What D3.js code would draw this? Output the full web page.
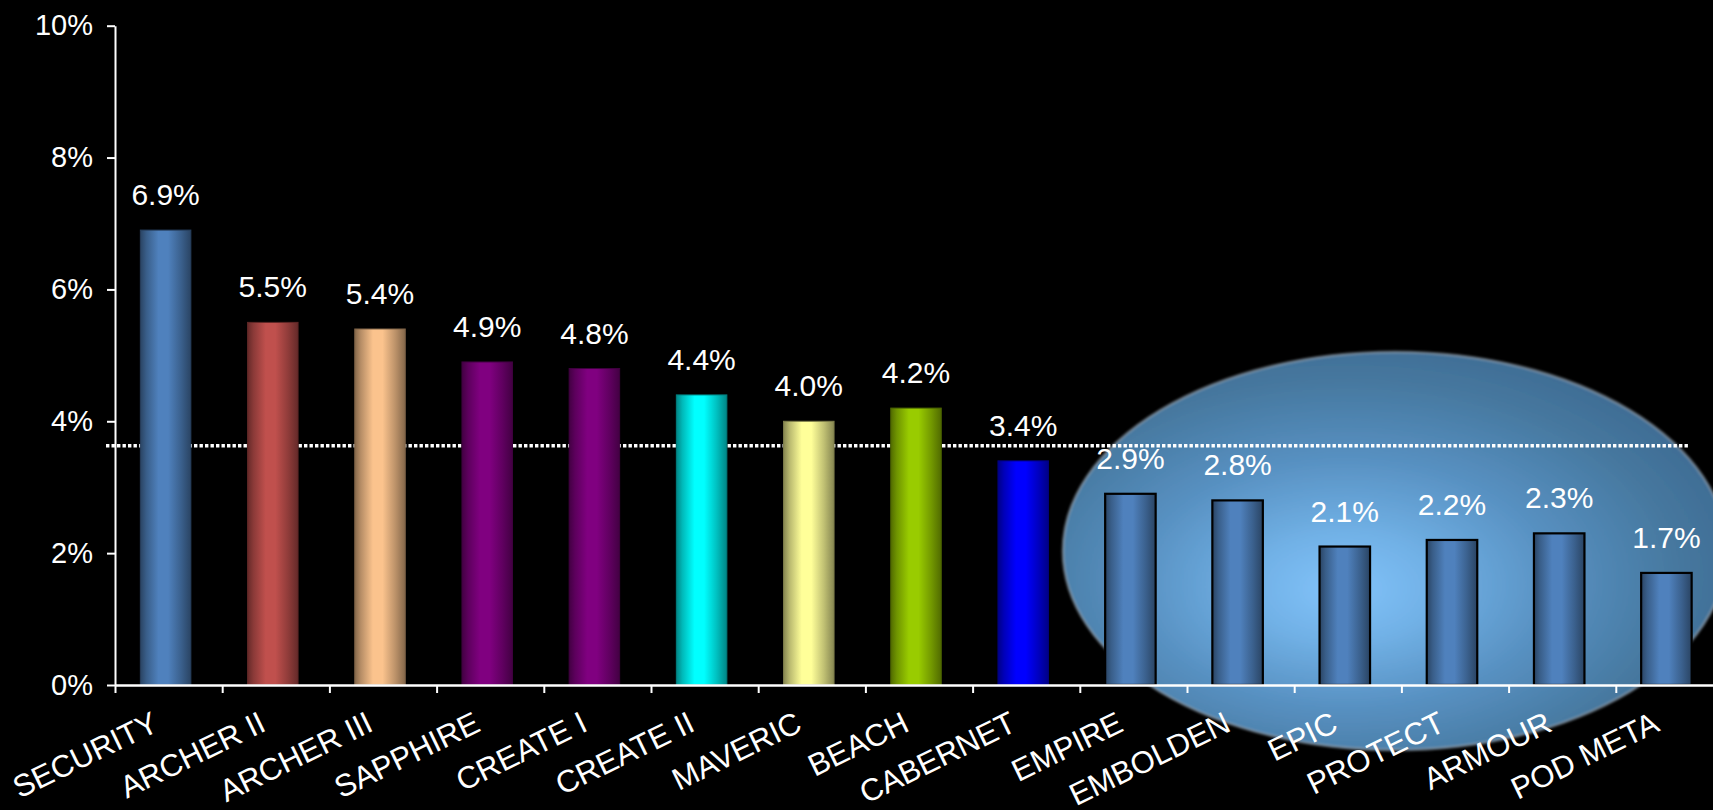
<!DOCTYPE html>
<html>
<head>
<meta charset="utf-8">
<script src="https://cdn.jsdelivr.net/npm/d3@7"></script>
<style>
  html, body { margin: 0; padding: 0; background: #000; }
  svg { display: block; }
  text { font-family: "Liberation Sans", Arial, sans-serif; fill: #fff; }
</style>
</head>
<body>
<svg id="chart" width="1713" height="810"></svg>
<script>
// Product names along the x axis
const categories = ["SECURITY", "ARCHER II", "ARCHER III", "SAPPHIRE", "CREATE I", "CREATE II",
  "MAVERIC", "BEACH", "CABERNET", "EMPIRE", "EMBOLDEN", "EPIC", "PROTECT", "ARMOUR", "POD META"];
// Rate per product, in percent
const values = [6.9, 5.5, 5.4, 4.9, 4.8, 4.4, 4.0, 4.2, 3.4, 2.9, 2.8, 2.1, 2.2, 2.3, 1.7];
// Fill colour per bar
const barColors = ["#4f81bd", "#c0504d", "#fbc38d", "#800080", "#800080", "#00ffff",
  "#ffff99", "#99cc00", "#0000ff", "#4f81bd", "#4f81bd", "#4f81bd", "#4f81bd", "#4f81bd", "#4f81bd"];
// Bars drawn with a black outline (the highlighted group)
const outlined = [false, false, false, false, false, false, false, false, false,
  true, true, true, true, true, true];
// Y axis ticks, in percent
const yTicks = [0, 2, 4, 6, 8, 10];
// Average reference line, in percent
const averageValue = 3.63;

const svg = d3.select("#chart");
const W = 1713, H = 810;
const plotLeft = 115, plotBottom = 685, plotTop = 25.7, step = 107.2;

const x = d3.scaleBand().domain(categories).range([plotLeft, plotLeft + step * categories.length]);
const xEdge = d3.scaleLinear().domain([0, categories.length]).range([plotLeft, plotLeft + step * categories.length]);
const y = d3.scaleLinear().domain([0, 10]).range([plotBottom, plotTop]);

const defs = svg.append("defs");

// Highlight ellipse behind the right-hand group
const eg = defs.append("radialGradient").attr("id", "ellipseFill")
  .attr("cx", 0.43).attr("cy", 0.56).attr("r", 0.62).attr("fx", 0.42).attr("fy", 0.6);
[[0, "#82c3fb"], [0.22, "#71b1e6"], [0.5, "#5891c2"], [0.8, "#46789f"], [1, "#3e6a92"]]
  .forEach(([o, c]) => eg.append("stop").attr("offset", o).attr("stop-color", c));
defs.append("filter").attr("id", "soft").attr("x", -0.05).attr("y", -0.05).attr("width", 1.1).attr("height", 1.1)
  .append("feGaussianBlur").attr("stdDeviation", 1.3);

// Cylinder-style shading for each bar colour
barColors.forEach((c, i) => {
  const base = d3.color(c);
  const g = defs.append("linearGradient").attr("id", "bar" + i)
    .attr("x1", 0).attr("x2", 1).attr("y1", 0).attr("y2", 0);
  [[0, base.darker(1.8)], [0.12, base.darker(0.9)], [0.36, base], [0.55, base],
   [0.8, base.darker(0.8)], [1, base.darker(1.8)]]
    .forEach(([o, col]) => g.append("stop").attr("offset", o).attr("stop-color", col.formatHex()));
});

svg.append("rect").attr("width", W).attr("height", H).attr("fill", "#000");

svg.append("ellipse")
  .attr("cx", 1395).attr("cy", 551).attr("rx", 332).attr("ry", 199)
  .attr("fill", "url(#ellipseFill)")
  .attr("stroke", "rgba(150,165,180,0.55)").attr("stroke-width", 3)
  .attr("filter", "url(#soft)");

// Dotted average line
svg.append("line")
  .attr("x1", 106).attr("x2", 1688)
  .attr("y1", y(averageValue)).attr("y2", y(averageValue))
  .attr("stroke", "#fff").attr("stroke-width", 3.5).attr("stroke-dasharray", "3.4,2.1");

const barW = 50.5;
const barX = d => x(d) + (x.bandwidth() - barW) / 2 - 3;

svg.append("g").selectAll("rect").data(categories).join("rect")
  .attr("x", d => barX(d))
  .attr("y", (d, i) => y(values[i]))
  .attr("width", barW)
  .attr("height", (d, i) => plotBottom - y(values[i]))
  .attr("fill", (d, i) => `url(#bar${i})`)
  .attr("stroke", (d, i) => outlined[i] ? "#000" : d3.color(barColors[i]).darker(2).formatHex())
  .attr("stroke-width", (d, i) => outlined[i] ? 2.2 : 1);

// Y axis
const yAxis = svg.append("g").attr("transform", `translate(${plotLeft},0)`)
  .call(d3.axisLeft(y).tickValues(yTicks).tickFormat(d => d + "%").tickSize(8).tickSizeOuter(0).tickPadding(14));
yAxis.select(".domain").attr("stroke", "#fff").attr("stroke-width", 2);
yAxis.selectAll(".tick line").attr("stroke", "#fff").attr("stroke-width", 2);
yAxis.selectAll(".tick text").attr("fill", "#fff").style("font-size", "29px")
  .style("font-family", "'Liberation Sans', Arial, sans-serif");

// X axis: ticks sit on category boundaries
const xAxis = svg.append("g").attr("transform", `translate(0,${plotBottom})`)
  .call(d3.axisBottom(xEdge).tickValues(d3.range(0, categories.length)).tickFormat("").tickSize(8).tickSizeOuter(0));
xAxis.select(".domain").attr("stroke", "#fff").attr("stroke-width", 2.5);
xAxis.selectAll(".tick line").attr("stroke", "#fff").attr("stroke-width", 2);

// Rotated category labels, right end of the cap line hung just left of the band centre
svg.append("g").selectAll("text").data(categories).join("text")
  .attr("transform", d => `translate(${x(d) + x.bandwidth() / 2 - 18},710) rotate(-26)`)
  .attr("text-anchor", "end")
  .attr("dy", "0.72em")
  .style("font-size", "31px")
  .text(d => d);

// Value labels above bars
svg.append("g").selectAll("text").data(categories).join("text")
  .attr("x", d => barX(d) + barW / 2)
  .attr("y", (d, i) => y(values[i]) - 25)
  .attr("text-anchor", "middle")
  .style("font-size", "30px")
  .text((d, i) => values[i].toFixed(1) + "%");
</script>
</body>
</html>
